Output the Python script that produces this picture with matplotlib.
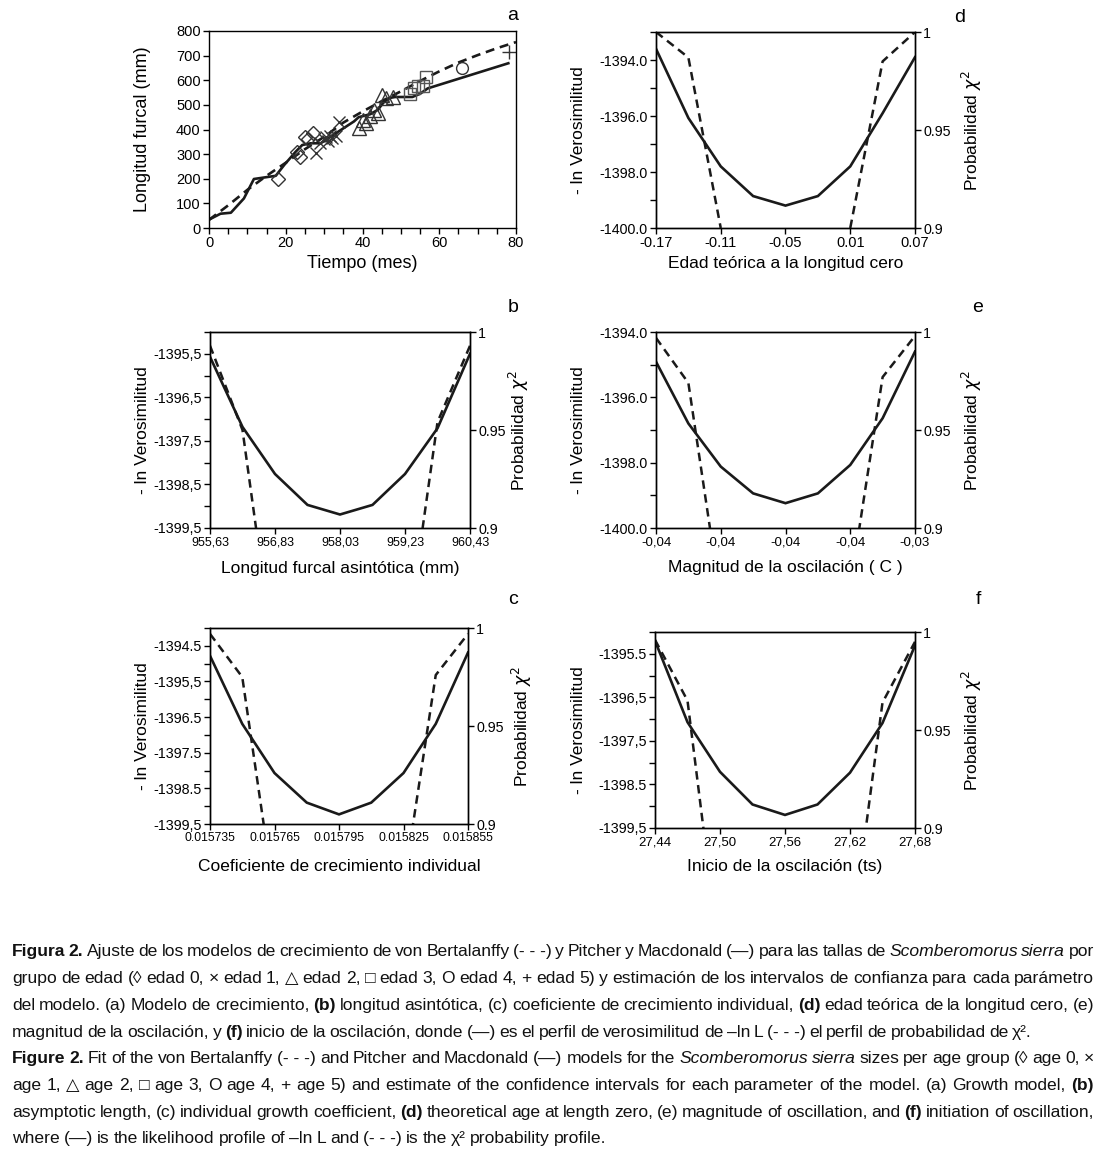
import matplotlib
matplotlib.use("Agg")
import matplotlib.pyplot as plt
import numpy as np

nan = np.nan

# ---------------- data ----------------
# panel a : growth model
t_vb = [0, 5, 10, 15, 20, 25, 30, 35, 40, 45, 50, 55, 60, 65, 70, 75, 80]
l_vb = [33, 92, 155, 212, 265, 320, 370, 428, 473, 515, 555, 597, 636, 672, 702, 730, 755]
t_pm = [0, 3, 5.7, 9.1, 11.7, 17.4, 19.6, 22.6, 24.3, 26.5, 29.1, 31.7, 37.8, 39, 42, 44, 45.5, 47, 48.5, 53, 55, 57, 78]
l_pm = [34, 58, 62, 120, 199, 212, 256, 310, 337, 344, 344, 371, 433, 450, 462, 480, 510, 528, 532, 532, 545, 567, 669]
age0_t = [18, 22.9, 23.7, 25, 25.8, 27]
age0_l = [201, 310, 287, 371, 360, 385]
age1_t = [27.8, 29, 30, 30.5, 31, 31.5, 32, 33, 34]
age1_l = [306, 345, 360, 370, 352, 375, 365, 372, 432]
age2_t = [39, 40, 41, 42, 43, 44, 45, 46, 48]
age2_l = [405, 440, 425, 455, 480, 466, 542, 528, 532]
age3_t = [52.4, 53.5, 54.5, 55.8, 56.5]
age3_l = [543, 569, 578, 576, 615]
age4_t = [65.9]
age4_l = [651]
age5_t = [78.2]
age5_l = [714]
a_xticks = [0, 20, 40, 60, 80]
a_yticks = [0, 100, 200, 300, 400, 500, 600, 700, 800]

# panel b : asymptotic length
x_b = [955.63, 956.23, 956.83, 957.43, 958.03, 958.63, 959.23, 959.83, 960.43]
nll_b = [-1395.57, -1397.18, -1398.26, -1398.97, -1399.19, -1398.97, -1398.26, -1397.21, -1395.5]
prob_b = [0.993, 0.95, 0.83, nan, nan, nan, 0.836, 0.954, 0.993]
b_xlabels = ["955,63", "956,83", "958,03", "959,23", "960,43"]
b_yticks = [-1399.5, -1398.5, -1397.5, -1396.5, -1395.5]
b_ylabels = ["-1399,5", "-1398,5", "-1397,5", "-1396,5", "-1395,5"]

# panel c : individual growth coefficient
x_c = [0.015735, 0.015750, 0.015765, 0.015780, 0.015795, 0.015810, 0.015825, 0.015840, 0.015855]
nll_c = [-1394.78, -1396.69, -1398.07, -1398.9, -1399.23, -1398.9, -1398.07, -1396.69, -1394.69]
prob_c = [0.997, 0.975, 0.862, nan, nan, nan, 0.868, 0.976, 0.997]
c_xlabels = ["0.015735", "0.015765", "0.015795", "0.015825", "0.015855"]
c_yticks = [-1399.5, -1398.5, -1397.5, -1396.5, -1395.5, -1394.5]
c_ylabels = ["-1399,5", "-1398.5", "-1397.5", "-1396.5", "-1395,5", "-1394.5"]

# panel d : theoretical age at length zero
x_d = [-0.17, -0.14, -0.11, -0.08, -0.05, -0.02, 0.01, 0.04, 0.07]
nll_d = [-1393.6, -1396.07, -1397.8, -1398.86, -1399.2, -1398.86, -1397.8, -1395.9, -1393.9]
prob_d = [1.0, 0.987, 0.9, nan, nan, nan, 0.9, 0.985, 1.0]
d_xlabels = ["-0.17", "-0.11", "-0.05", "0.01", "0.07"]
d_yticks = [-1400, -1398, -1396, -1394]
d_ylabels = ["-1400.0", "-1398.0", "-1396.0", "-1394.0"]

# panel e : magnitude of oscillation
x_e = [-0.0396, -0.0390, -0.0384, -0.0378, -0.0372, -0.0366, -0.0360, -0.0354, -0.0348]
nll_e = [-1394.91, -1396.8, -1398.12, -1398.94, -1399.24, -1398.94, -1398.07, -1396.64, -1394.6]
prob_e = [0.997, 0.974, 0.863, nan, nan, nan, 0.870, 0.977, 0.998]
e_xlabels = ["-0,04", "-0,04", "-0,04", "-0,04", "-0,03"]
e_yticks = [-1400, -1398, -1396, -1394]
e_ylabels = ["-1400.0", "-1398.0", "-1396.0", "-1394.0"]

# panel f : initiation of oscillation
x_f = [27.44, 27.47, 27.50, 27.53, 27.56, 27.59, 27.62, 27.65, 27.68]
nll_f = [-1395.2, -1397.07, -1398.21, -1398.96, -1399.2, -1398.96, -1398.23, -1397.09, -1395.31]
prob_f = [0.996, 0.965, 0.832, nan, nan, nan, 0.839, 0.964, 0.995]
f_xlabels = ["27,44", "27,50", "27,56", "27,62", "27,68"]
f_yticks = [-1399.5, -1398.5, -1397.5, -1396.5, -1395.5]
f_ylabels = ["-1399,5", "-1398.5", "-1397,5", "-1396,5", "-1395.5"]

prob_ticks = [0.9, 0.95, 1.0]
prob_labels = ["0.9", "0.95", "1"]

caption = [
    "**Figura** **2.** Ajuste de los modelos de crecimiento de von Bertalanffy (-\u00a0-\u00a0-) y Pitcher y Macdonald (\u2014) para las tallas de _Scomberomorus_ _sierra_ por",
    "grupo de edad (\u25ca edad 0, \u00d7 edad 1, \u25b3 edad 2, \u25a1 edad 3, O edad 4, + edad 5) y estimación de los intervalos de confianza para cada parámetro",
    "del modelo. (a) Modelo de crecimiento, **(b)** longitud asintótica, (c) coeficiente de crecimiento individual, **(d)** edad teórica de la longitud cero, (e)",
    "magnitud de la oscilación, y **(f)** inicio de la oscilación, donde (\u2014) es el perfil de verosimilitud de \u2013ln L (-\u00a0-\u00a0-) el perfil de probabilidad de \u03c7\u00b2.",
    "**Figure** **2.** Fit of the von Bertalanffy (-\u00a0-\u00a0-) and Pitcher and Macdonald (\u2014) models for the _Scomberomorus_ _sierra_ sizes per age group (\u25ca age 0, \u00d7",
    "age 1, \u25b3 age 2, \u25a1 age 3, O age 4, + age 5) and estimate of the confidence intervals for each parameter of the model. (a) Growth model, **(b)**",
    "asymptotic length, (c) individual growth coefficient, **(d)** theoretical age at length zero, (e) magnitude of oscillation, and **(f)** initiation of oscillation,",
    "where (\u2014) is the likelihood profile of \u2013ln L and (-\u00a0-\u00a0-) is the \u03c7\u00b2 probability profile.",
]

# ---------------- style ----------------
plt.rcParams["font.family"] = ["Liberation Sans", "DejaVu Sans"]
plt.rcParams["mathtext.fontset"] = "dejavusans"

W, H = 1104, 1158
fig = plt.figure(figsize=(W / 100, H / 100), dpi=100)
INK = "#1a1a1a"
DASH = (0, (3.4, 2.2))
LAB_FS = 12.5


def ax_px(l, t, r, b):
    return fig.add_axes([l / W, 1 - b / H, (r - l) / W, (b - t) / H])


def style_axis(ax, xs, ys):
    for s in ax.spines.values():
        s.set_linewidth(1.0)
        s.set_color("black")
    ax.tick_params(which="both", direction="out", length=4, width=1, color="black")
    ax.tick_params(axis="x", labelsize=xs, pad=2)
    ax.tick_params(axis="y", labelsize=ys, pad=2)


def place_labels(ax, xl, xly, yl, ylx, fs=LAB_FS):
    ax.set_xlabel(xl, fontsize=fs)
    ax.set_ylabel(yl, fontsize=fs)
    ax.xaxis.set_label_coords(0.5, xly)
    ax.yaxis.set_label_coords(ylx, 0.5)
    for lab in (ax.xaxis.label, ax.yaxis.label):
        lab.set_verticalalignment("center")
        lab.set_horizontalalignment("center")


def profile(rect, x, nll, prob, ylim, yticks, ylabels, xlabels, xlabel, letter, lpos,
            xly, ylx, rlx, xs=9.0, ys=10.3):
    ax = ax_px(*rect)
    ax.plot(x, nll, color=INK, lw=1.9, solid_joinstyle="miter")
    ax.set_xlim(x[0], x[-1])
    ax.set_ylim(*ylim)
    ax.set_xticks(x[::2])
    ax.set_xticklabels(xlabels)
    ax.set_yticks(yticks)
    ax.set_yticklabels(ylabels)
    step = 0.5 if yticks[1] - yticks[0] == 1 else 1
    minor = [v + step for v in yticks if v + step <= ylim[1] + 1e-9]
    ax.set_yticks(minor, minor=True)
    style_axis(ax, xs, ys)
    place_labels(ax, xlabel, xly, "- ln Verosimilitud", ylx)
    ax2 = ax.twinx()
    ax2.plot(x, prob, color=INK, lw=1.8, ls=DASH)
    ax2.set_ylim(0.9, 1.0)
    ax2.set_yticks(prob_ticks)
    ax2.set_yticklabels(prob_labels)
    style_axis(ax2, xs, 10.3)
    ax2.set_ylabel(r"Probabilidad $\chi^2$", fontsize=LAB_FS)
    ax2.yaxis.set_label_coords(rlx, 0.5)
    ax2.yaxis.label.set_verticalalignment("center")
    ax2.yaxis.label.set_horizontalalignment("center")
    fig.text(lpos[0] / W, 1 - lpos[1] / H, letter, fontsize=14, ha="center", va="center")
    return ax


# ---------------- panel a ----------------
axa = ax_px(209, 31, 516, 228)
axa.plot(t_vb, l_vb, color=INK, lw=1.9, ls=DASH)
axa.plot(t_pm, l_pm, color=INK, lw=1.9)
mk = dict(ls="none", mfc="none", mew=1.0)
axa.plot(age0_t, age0_l, marker="D", ms=7, mec="#333333", **mk)
axa.plot(age1_t, age1_l, marker="x", ms=9, mec="#333333", **mk)
axa.plot(age2_t, age2_l, marker="^", ms=9.5, mec="#333333", **mk)
axa.plot(age3_t, age3_l, marker="s", ms=8, mec="#555555", **mk)
axa.plot(age4_t, age4_l, marker="o", ms=8.5, mec="#333333", **mk)
axa.plot(age5_t, age5_l, marker="+", ms=10, mec="#333333", **mk)
axa.set_xlim(a_xticks[0], a_xticks[-1])
axa.set_ylim(a_yticks[0], a_yticks[-1])
axa.set_xticks(a_xticks)
axa.set_xticks(np.arange(a_xticks[0], a_xticks[-1] + 1, 5), minor=True)
axa.set_yticks(a_yticks)
style_axis(axa, 10.5, 10.5)
place_labels(axa, "Tiempo (mes)", -0.18, "Longitud furcal (mm)", -0.215, fs=13)
fig.text(513 / W, 1 - 15 / H, "a", fontsize=14, ha="center", va="center")

# ---------------- profiles ----------------
profile((656, 32, 915, 228), x_d, nll_d, prob_d, (-1400, -1393), d_yticks, d_ylabels,
        d_xlabels, "Edad teórica a la longitud cero", "d", (960, 17), -0.18, -0.30, 1.22,
        xs=10.5)
profile((210, 332, 470, 528), x_b, nll_b, prob_b, (-1399.5, -1395.0), b_yticks, b_ylabels,
        b_xlabels, "Longitud furcal asintótica (mm)", "b", (513, 307), -0.205, -0.258, 1.19)
profile((656, 332, 915, 528), x_e, nll_e, prob_e, (-1400, -1394), e_yticks, e_ylabels,
        e_xlabels, "Magnitud de la oscilación ( C )", "e", (978, 308), -0.2, -0.30, 1.22,
        xs=9.5)
profile((210, 628, 468, 824), x_c, nll_c, prob_c, (-1399.5, -1394.0), c_yticks, c_ylabels,
        c_xlabels, "Coeficiente de crecimiento individual", "c", (513, 600), -0.215, -0.26, 1.21,
        xs=8.8)
profile((655, 632, 915, 828), x_f, nll_f, prob_f, (-1399.5, -1395.0), f_yticks, f_ylabels,
        f_xlabels, "Inicio de la oscilación (ts)", "f", (978, 600), -0.195, -0.296, 1.22,
        xs=9.5)

# ---------------- caption ----------------
renderer = fig.canvas.get_renderer()
CAP_FS = 12.6
X0 = 12
line_right = [1094, 1094, 1094, 1032, 1094, 1094, 1094, 606]
line_y = [956, 983, 1010, 1037, 1063, 1090, 1117, 1143]


def draw_line(text, y, x1):
    words = text.split(" ")
    arts, widths = [], []
    for w in words:
        weight, style = "normal", "normal"
        if w.startswith("**") and w.endswith("**"):
            w = w[2:-2]
            weight = "bold"
        elif w.startswith("_") and w.endswith("_"):
            w = w[1:-1]
            style = "italic"
        a = fig.text(0, 1 - y / H, w, fontsize=CAP_FS, fontweight=weight, fontstyle=style,
                     ha="left", va="baseline", color="#111111")
        arts.append(a)
        widths.append(a.get_window_extent(renderer=renderer).width)
    gap = (x1 - X0 - sum(widths)) / (len(words) - 1)
    x = X0
    for a, w in zip(arts, widths):
        a.set_x(x / W)
        x += w + gap


for txt, x1, yy in zip(caption, line_right, line_y):
    draw_line(txt, yy, x1)

fig.savefig("out.png", dpi=100, facecolor="white")
